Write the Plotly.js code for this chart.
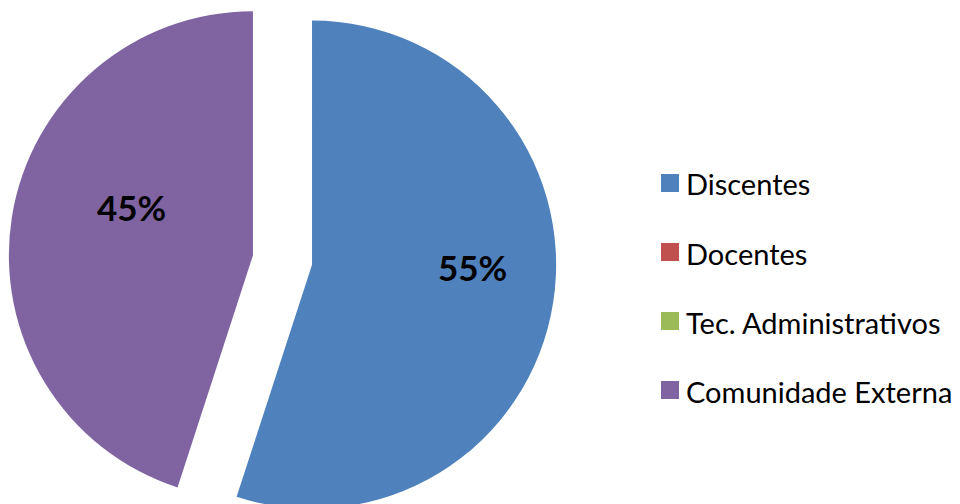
<!DOCTYPE html>
<html>
<head>
<meta charset="utf-8">
<script src="https://cdn.plot.ly/plotly-3.0.1.min.js"></script>
<style>
html,body{margin:0;padding:0;background:#fff;overflow:hidden;width:960px;height:504px;}
#chart{position:absolute;left:0;top:-40px;width:960px;height:600px;}
#chart text{font-variant-ligatures:none;}
</style>
</head>
<body>
<div id="chart"></div>
<script>
const categories = ["Discentes", "Docentes", "Tec. Administrativos", "Comunidade Externa"];
const values = [55, 0, 0, 45];
const colors = ["#4F81BD", "#C0504D", "#9BBB59", "#8064A2"];

const H = 600, SHIFT = 40;
function px(pageX){ return pageX / 960; }
function py(pageY){ return 1 - (pageY + SHIFT) / H; }

const pie = {
  type: "pie",
  labels: categories,
  values: values,
  sort: false,
  direction: "clockwise",
  rotation: 0,
  pull: 0.1225,
  marker: {colors: colors, line: {width: 0}},
  textinfo: "none",
  hoverinfo: "none",
  showlegend: false,
  domain: {x: [8.5/960, 556.5/960], y: [1 - 574/H, 1 - 26/H]}
};

const total = values.reduce((a, b) => a + b, 0);
// label placement (page pixels) for the non-zero slices, as in the original chart
const labelPos = {0: [472, 267], 3: [131, 207]};

const legendRows = [183, 252, 321, 390];
const shapes = [];
const annotations = [];
categories.forEach((c, i) => {
  shapes.push({type: "rect", xref: "paper", yref: "paper",
    x0: px(661), x1: px(679), y0: py(legendRows[i] + 9), y1: py(legendRows[i] - 9),
    fillcolor: colors[i], line: {width: 0}});
  annotations.push({xref: "paper", yref: "paper", x: px(684), y: py(legendRows[i] + 1),
    xanchor: "left", yanchor: "middle", showarrow: false, text: c,
    font: {family: "Lato, 'Open Sans', sans-serif", size: 29, color: "#000"}});
  if (values[i] > 0 && labelPos[i]) {
    annotations.push({xref: "paper", yref: "paper", x: px(labelPos[i][0]), y: py(labelPos[i][1]),
      xanchor: "center", yanchor: "middle", showarrow: false,
      text: Math.round(values[i] / total * 100) + "%",
      font: {family: "Lato, 'Open Sans', sans-serif", size: 35, color: "#000", weight: "bold"}});
  }
});

const layout = {
  width: 960, height: H,
  margin: {l: 0, r: 0, t: 0, b: 0},
  paper_bgcolor: "#fff", plot_bgcolor: "#fff",
  showlegend: false,
  shapes: shapes,
  annotations: annotations
};

Plotly.newPlot("chart", [pie], layout, {displayModeBar: false, staticPlot: true});
</script>
</body>
</html>
